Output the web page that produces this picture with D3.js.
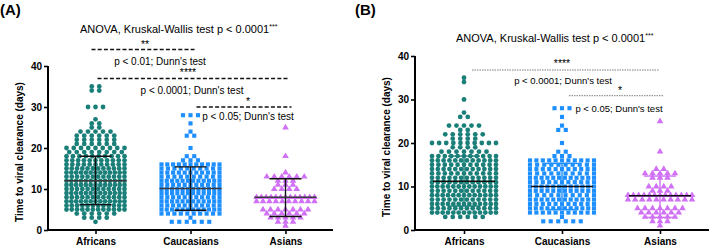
<!DOCTYPE html>
<html>
<head>
<meta charset="utf-8">
<script src="https://cdn.jsdelivr.net/npm/d3@7"></script>
<style>
  body { margin: 0; background: #fff; }
  text { font-family: "Liberation Sans", Arial, sans-serif; }
</style>
</head>
<body>
<svg width="709" height="250"></svg>
<script>
const groups = ["Africans", "Caucasians", "Asians"];
const colors = ["#1b7f79", "#1e8fff", "#d070f5"];
const yTicks = [0, 10, 20, 30, 40];
const title = "ANOVA, Kruskal-Wallis test  p < 0.0001";
const titleSup = "***";

// [days, number of patients] for each row of points
const africansA = [[2,1],[3,4],[4,6],[5,12],[6,12],[7,13],[8,12],[9,13],[10,12],[11,13],[12,13],[13,12],[14,13],[15,12],[16,11],[17,11],[18,10],[19,8],[20,9],[21,6],[22,6],[23,6],[24,5],[25,2],[26,2],[27,1],[30,3],[34,2],[35,2]];
const caucasiansA = [[2,6],[3,1],[4,10],[5,12],[6,11],[7,12],[8,11],[9,12],[10,12],[11,11],[12,12],[13,10],[14,11],[15,10],[16,11],[17,3],[18,2],[20,1],[23,2],[24,1],[26,1],[28,3]];
const asiansA = [[1,1],[2,3],[3,5],[4,6],[5,7],[7,10],[8,13],[10,4],[11,3],[12,3],[13,6],[14,1],[18,1],[25,1]];

const africansB = [[3,6],[4,13],[5,12],[6,13],[7,12],[8,13],[9,12],[10,13],[11,12],[12,12],[13,11],[14,12],[15,11],[16,12],[17,11],[18,7],[19,4],[20,10],[21,4],[22,6],[23,2],[24,5],[26,2],[27,1],[30,1],[34,1],[35,1]];
const caucasiansB = [[2,6],[3,1],[4,11],[5,12],[6,11],[7,12],[8,10],[9,12],[10,12],[11,11],[12,12],[13,10],[14,11],[15,10],[16,11],[17,3],[18,2],[20,1],[23,2],[24,1],[26,1],[28,3]];
const asiansB = [[1,1],[2,3],[3,5],[4,6],[5,7],[7,10],[8,13],[9,3],[10,4],[12,3],[13,5],[14,2],[18,1],[25,1]];

// mean and SD limits
const meanA = [12, 10.1, 8];
const upperA = [18, 15.4, 12.5];
const lowerA = [6.2, 4.8, 3.3];
const meanB = [11.2, 10, 7.9];
const upperB = [17, 15.3, 12.4];
const lowerB = [5.5, 4.7, 2.9];

const starsA = ["**", "****", "*"];
const testsA = ["p < 0.01; Dunn's test", "p < 0.0001; Dunn's test", "p < 0.05; Dunn's test"];
const starsB = ["****", "*"];
const testsB = ["p < 0.0001; Dunn's test", "p < 0.05; Dunn's test"];

const svg = d3.select("svg");
const symbols = [d3.symbolCircle, d3.symbolSquare, d3.symbolTriangle];
const symSize = [18, 17, 19];

const drawPanel = (p) => {
  const g = svg.append("g");

  const x = d3.scalePoint().domain(groups).range([p.x0, p.x1]).padding(0.5);
  const y = d3.scaleLinear().domain([0, 40]).range([230, p.yTop]);

  // points, laid out row by row around the group centre
  p.series.forEach((rows, gi) => {
    const pts = [];
    rows.forEach(([v, n]) => {
      for (let i = 0; i < n; i++) pts.push({ v, i, n });
    });
    g.append("g").selectAll("path")
      .data(pts)
      .enter()
      .append("path")
      .attr("d", d3.symbol().type(symbols[gi]).size(symSize[gi]))
      .attr("fill", colors[gi])
      .attr("transform", (d) => {
        const sp = d.n > 1 ? Math.min(7.5, 2 * p.half / (d.n - 1)) : 0;
        const dx = (d.i - (d.n - 1) / 2) * sp;
        return "translate(" + (x(groups[gi]) + dx) + "," + y(d.v) + ")";
      });
  });

  // error bars + mean line
  groups.forEach((name, gi) => {
    const cx = x(name);
    const c = p.barColor ? p.barColor[gi] : "#111";
    g.append("line")
      .attr("x1", cx).attr("x2", cx)
      .attr("y1", y(p.upper[gi])).attr("y2", y(p.lower[gi]))
      .attr("stroke", c).attr("stroke-width", 1.4);
    [p.upper[gi], p.lower[gi]].forEach((v) => {
      g.append("line")
        .attr("x1", cx - 16).attr("x2", cx + 16)
        .attr("y1", y(v)).attr("y2", y(v))
        .attr("stroke", c).attr("stroke-width", 1.4);
    });
    g.append("line")
      .attr("x1", cx - 31).attr("x2", cx + 31)
      .attr("y1", y(p.mean[gi])).attr("y2", y(p.mean[gi]))
      .attr("stroke", p.meanColor).attr("stroke-width", 1.5);
  });

  // axes
  const yAxis = d3.axisLeft(y).tickValues(yTicks).tickSize(4).tickPadding(2);
  const ya = g.append("g")
    .attr("transform", "translate(" + p.x0 + ",0)")
    .call(yAxis);
  const xAxis = d3.axisBottom(x).tickSize(4).tickPadding(4);
  const xa = g.append("g")
    .attr("transform", "translate(0,230)")
    .call(xAxis);
  [ya, xa].forEach((a) => {
    a.select(".domain").attr("stroke", "#000").attr("stroke-width", 2);
    a.selectAll(".tick line").attr("stroke", "#000").attr("stroke-width", 1.6);
    a.selectAll("text").attr("font-size", 10).attr("font-weight", "bold")
      .attr("fill", "#000").attr("font-family", "Liberation Sans, Arial, sans-serif");
  });
  ya.select(".domain").attr("d", "M0," + y(40) + "V230");
  xa.select(".domain").attr("d", "M" + p.x0 + ",0H" + p.x1);

  g.append("text")
    .attr("transform", "translate(" + p.ylabX + "," + ((230 + p.yTop) / 2 + 4) + ") rotate(-90)")
    .attr("text-anchor", "middle")
    .attr("font-size", 10).attr("font-weight", "bold")
    .text("Time to viral clearance (days)");

  g.append("text")
    .attr("x", p.x0 - p.labelDx).attr("y", 15)
    .attr("font-size", 15).attr("font-weight", "bold")
    .text(p.label);

  const t = g.append("text")
    .attr("x", p.titleX).attr("y", p.titleY)
    .attr("font-size", 11);
  t.append("tspan").text(title);
  t.append("tspan").attr("font-size", 7).attr("dy", -4).text(titleSup);

  // comparison brackets
  p.brackets.forEach((b) => {
    g.append("text")
      .attr("x", b.sx).attr("y", b.sy)
      .attr("text-anchor", "middle")
      .attr("font-size", 10.5)
      .text(b.star);
    g.append("line")
      .attr("x1", b.x1).attr("x2", b.x2)
      .attr("y1", b.ly).attr("y2", b.ly)
      .attr("stroke", p.dashColor)
      .attr("stroke-width", p.dashWidth)
      .attr("stroke-dasharray", p.dash);
    g.append("text")
      .attr("x", b.tx).attr("y", b.ty)
      .attr("text-anchor", "middle")
      .attr("font-size", p.testSize)
      .text(b.test);
  });
};

// panel A
{
  const x0 = 48, x1 = 333;
  const xs = d3.scalePoint().domain(groups).range([x0, x1]).padding(0.5);
  drawPanel({
    label: "(A)", labelDx: 48, x0, x1, yTop: 66, half: 29, ylabX: 23,
    series: [africansA, caucasiansA, asiansA],
    mean: meanA, upper: upperA, lower: lowerA, meanColor: "#3a3a3a",
    titleX: 80, titleY: 33,
    dashColor: "#111", dashWidth: 1.3, dash: "4,2.2", testSize: 10,
    brackets: [
      { star: starsA[0], test: testsA[0], sx: 145, sy: 48, x1: xs("Africans") - 4, x2: xs("Caucasians") + 4, ly: 49.5, tx: 160, ty: 65 },
      { star: starsA[1], test: testsA[1], sx: 188, sy: 76, x1: xs("Africans") + 2, x2: xs("Asians") + 2, ly: 78.5, tx: 192, ty: 94 },
      { star: starsA[2], test: testsA[2], sx: 248, sy: 105, x1: xs("Caucasians") + 6, x2: xs("Asians") + 6, ly: 107, tx: 248, ty: 120 }
    ]
  });
}

// panel B
{
  const x0 = 415, x1 = 709;
  const xs = d3.scalePoint().domain(groups).range([x0, x1]).padding(0.5);
  drawPanel({
    label: "(B)", labelDx: 60, x0, x1, yTop: 56, half: 32, ylabX: 390,
    series: [africansB, caucasiansB, asiansB],
    mean: meanB, upper: upperB, lower: lowerB, meanColor: "#111", barColor: colors,
    titleX: 456, titleY: 42,
    dashColor: "#444", dashWidth: 0.7, dash: "1.5,1", testSize: 9.5,
    brackets: [
      { star: starsB[0], test: testsB[0], sx: 562, sy: 67, x1: xs("Africans") + 8, x2: xs("Asians") - 1, ly: 70, tx: 563, ty: 84 },
      { star: starsB[1], test: testsB[1], sx: 620, sy: 94, x1: xs("Caucasians") + 7, x2: xs("Asians") + 4, ly: 95.7, tx: 619, ty: 111.5 }
    ]
  });
}
</script>
</body>
</html>
